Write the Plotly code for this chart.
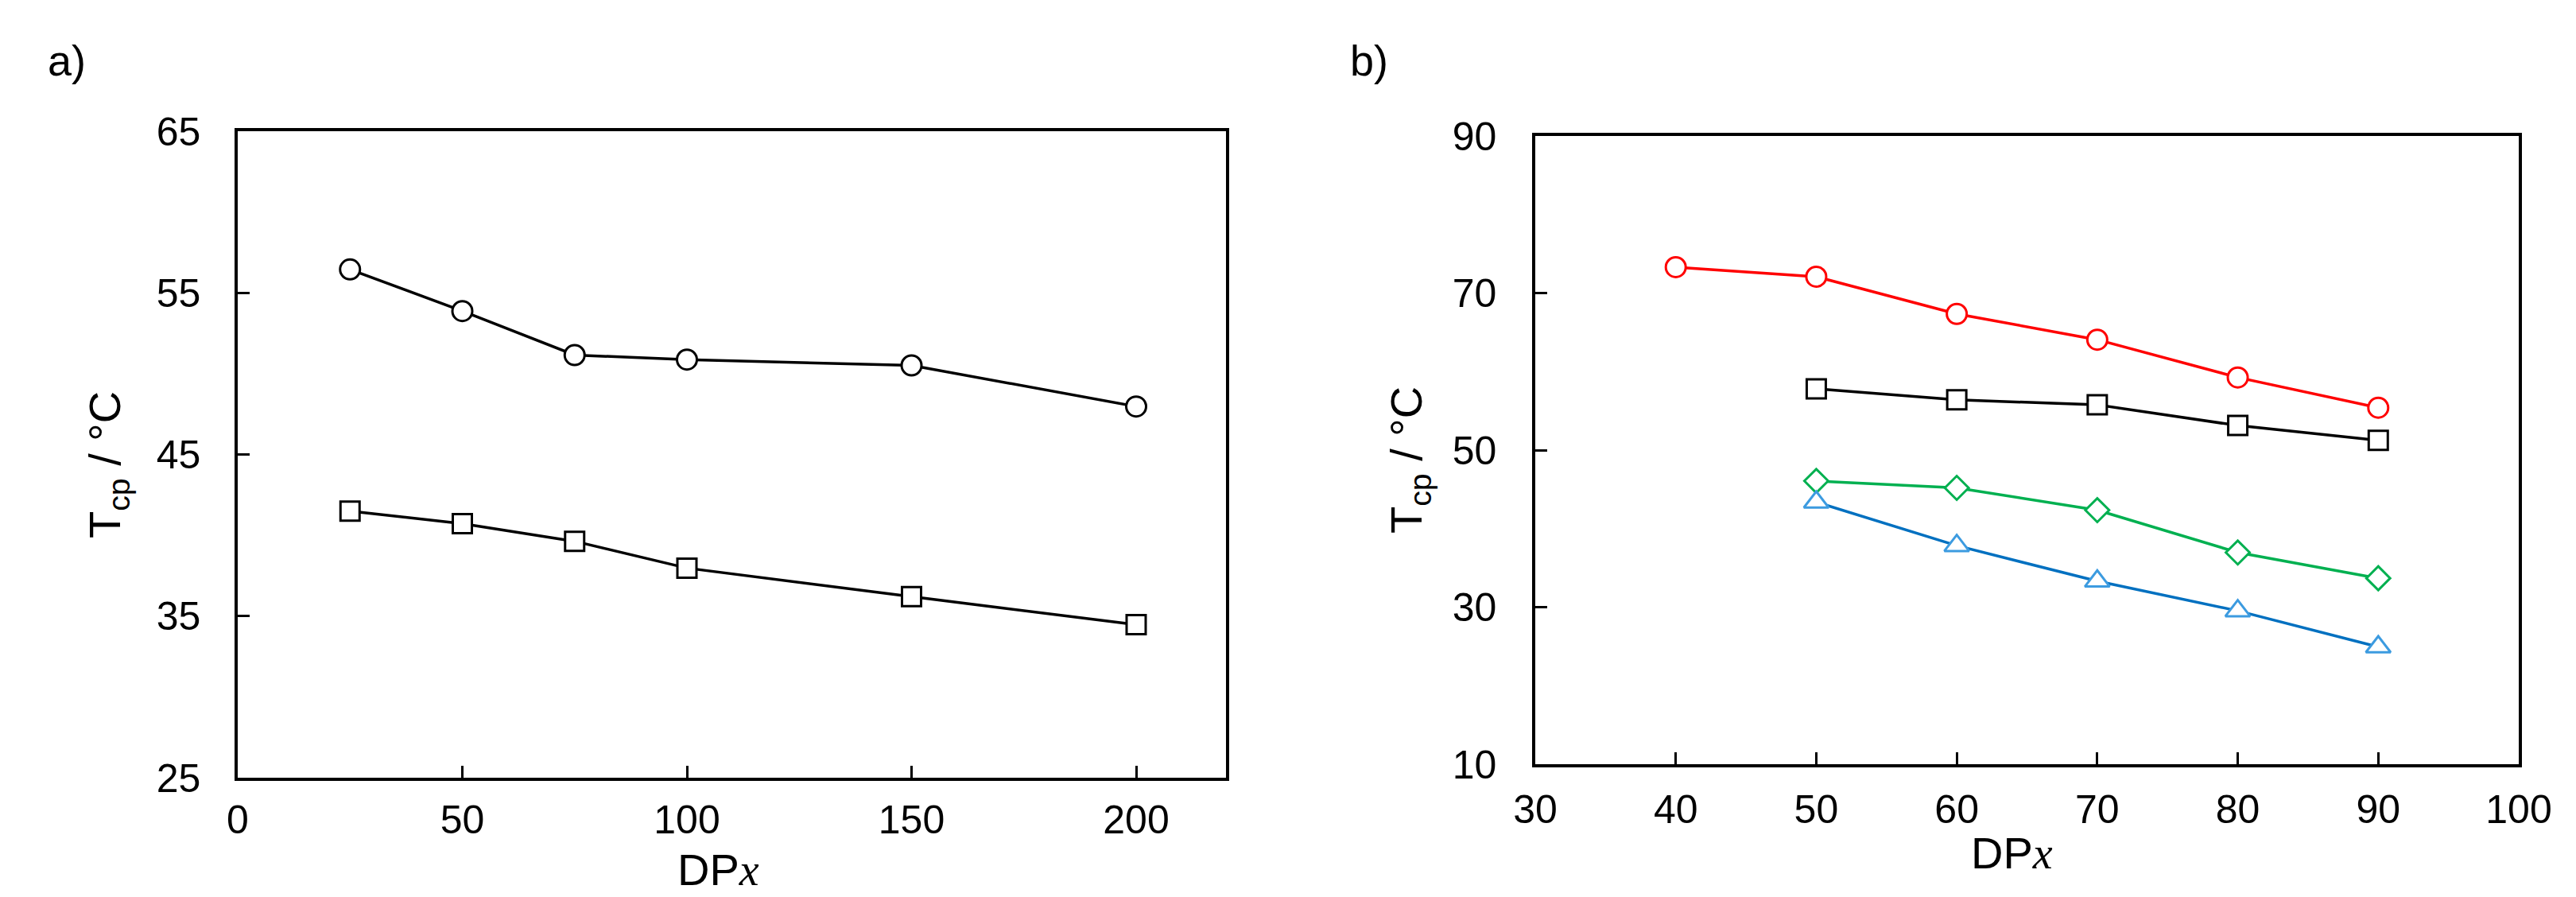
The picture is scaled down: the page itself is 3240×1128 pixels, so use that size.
import plotly.graph_objects as go

# Panel a data
a_x = [25, 50, 75, 100, 150, 200]
a_circle = [56.45, 53.87, 51.15, 50.87, 50.51, 47.97]
a_square = [41.5, 40.72, 39.63, 37.97, 36.2, 34.47]

# Panel b data
b_x_red = [40, 50, 60, 70, 80, 90]
b_red = [73.3, 72.08, 67.34, 64.06, 59.25, 55.4]
b_x = [50, 60, 70, 80, 90]
b_black = [57.8, 56.4, 55.76, 53.13, 51.24]
b_green = [46.07, 45.19, 42.35, 36.96, 33.68]
b_blue = [43.37, 37.83, 33.31, 29.53, 24.94]

a_xticks = [0, 50, 100, 150, 200]
a_yticks = [25, 35, 45, 55, 65]
b_xticks = [30, 40, 50, 60, 70, 80, 90, 100]
b_yticks = [10, 30, 50, 70, 90]

W, H = 3240, 1128
FONT = "Liberation Sans, Arial, sans-serif"
SERIF = "Liberation Serif, Times New Roman, serif"
fig = go.Figure()

def add(x, y, xa, ya, color, symbol, size, mcolor=None):
    fig.add_trace(go.Scatter(
        x=x, y=y, xaxis=xa, yaxis=ya, mode="lines+markers",
        line=dict(color=color, width=3.5),
        marker=dict(symbol=symbol, size=size, color="white",
                    line=dict(color=mcolor or color, width=3)),
        showlegend=False, cliponaxis=False))

add(a_x, a_circle, "x", "y", "black", "circle", 25)
add(a_x, a_square, "x", "y", "black", "square", 24)
add(b_x_red, b_red, "x2", "y2", "#FF0000", "circle", 25)
add(b_x, b_black, "x2", "y2", "black", "square", 24)
add(b_x, b_green, "x2", "y2", "#00B050", "diamond", 23)
add(b_x, b_blue, "x2", "y2", "#0070C0", "triangle-up", 27, "#3C9BE0")

axis_common = dict(showline=True, linecolor="black", linewidth=3.5, mirror=True,
                   ticks="inside", ticklen=15, tickwidth=3, tickcolor="black",
                   showgrid=False, zeroline=False, automargin=False,
                   tickfont=dict(family=FONT, size=50, color="black"))
title_font = dict(family=FONT, size=56, color="black")
xtitle = f'DP<span style="font-family:{SERIF};font-style:italic">x</span>'
ytitle = "T<sub>cp</sub> / °C"

def px(x):
    return x / W

def py(y):
    return 1 - y / H

annotations = [
    dict(text="a)", x=px(58), y=py(76), xanchor="left", yanchor="middle",
         font=dict(family=FONT, size=54, color="black")),
    dict(text="b)", x=px(1696), y=py(76), xanchor="left", yanchor="middle",
         font=dict(family=FONT, size=54, color="black")),
    dict(text=xtitle, x=px(903), y=py(1093), xanchor="center", yanchor="middle",
         font=title_font),
    dict(text=xtitle, x=px(2530), y=py(1072), xanchor="center", yanchor="middle",
         font=title_font),
    dict(text=ytitle, x=px(135), y=py(585), xanchor="center", yanchor="middle",
         textangle=-90, font=title_font),
    dict(text=ytitle, x=px(1772), y=py(579), xanchor="center", yanchor="middle",
         textangle=-90, font=title_font),
]
for a in annotations:
    a.update(xref="paper", yref="paper", showarrow=False)

fig.update_layout(
    width=W, height=H,
    margin=dict(l=0, r=0, t=0, b=0, autoexpand=False),
    paper_bgcolor="white", plot_bgcolor="white",
    xaxis=dict(domain=[px(299), px(1542)], range=[0, 220], tickvals=a_xticks,
               anchor="y", ticklabelstandoff=6, **axis_common),
    yaxis=dict(domain=[py(978), py(165)], range=[25, 65], tickvals=a_yticks,
               anchor="x", ticklabelstandoff=33, **axis_common),
    xaxis2=dict(domain=[px(1931), px(3168)], range=[30, 100], tickvals=b_xticks,
                anchor="y2", ticklabelstandoff=10, **axis_common),
    yaxis2=dict(domain=[py(961), py(171)], range=[10, 90], tickvals=b_yticks,
                anchor="x2", ticklabelstandoff=35, **axis_common),
    annotations=annotations,
)

fig.write_html("out.html", config={"displayModeBar": False},
               post_script="document.body.style.margin='0';document.body.style.overflow='hidden';")
